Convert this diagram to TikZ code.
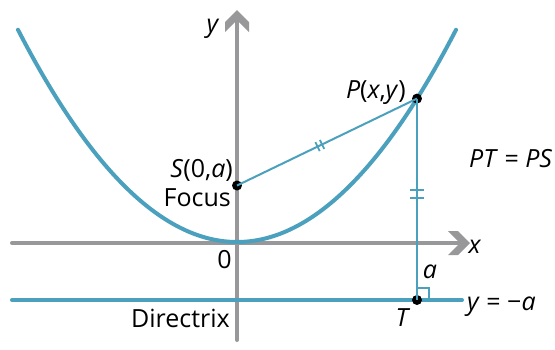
\documentclass[tikz,border=0pt]{standalone}
\usepackage{fontspec}
\setmainfont{Open Sans}
\usetikzlibrary{calc}
\definecolor{teal1}{HTML}{4BA0BE}
\definecolor{axgray}{HTML}{98989A}
\tikzset{
  axis/.style={draw=axgray,line width=4pt,line cap=round},
  curve/.style={draw=teal1,line width=4pt,line cap=round},
  seg/.style={draw=teal1,line width=2pt},
  lbl/.style={font=\fontsize{25}{28}\selectfont,inner sep=0pt},
  dot/.style={circle,fill=black,inner sep=0pt,minimum size=10pt},
  tickm/.style={draw=teal1,line width=1.8pt}
}
\begin{document}
\begin{tikzpicture}[x=1pt,y=-1pt]
\useasboundingbox (0,0) rectangle (555,349);
% axes
\draw[axis] (12,243) -- (460,243);
\fill[axgray] (470,243) -- (458,231) -- (448,231) -- (460,243) -- (448,255) -- (458,255) -- cycle;
\draw[axis] (237,340) -- (237,20);
\fill[axgray] (237,10) -- (225,22) -- (225,32) -- (237,20) -- (249,32) -- (249,22) -- cycle;
% directrix
\draw[curve] (12,300) -- (462,300);
% parabola
\draw[curve] plot[domain=-219:219,samples=120,smooth] ({237+\x},{242-\x*(\x/226)});
% points
\node[dot] (S) at (237,185.5) {};
\node[dot] (P) at (417,98.6) {};
\node[dot] (T) at (417,300) {};
\draw[seg] (S.center) -- (P.center);
\draw[seg] (P.center) -- (T.center);
% right angle
\draw[draw=teal1,line width=1.8pt] (417,288) -- (429,288) -- (429,300);
% ticks on PS
\coordinate (m1) at ($(S)!0.46!(P)$);
\coordinate (m1a) at ($(m1)!2.5pt!(P)$);
\coordinate (m1b) at ($(m1)!-2.5pt!(P)$);
\draw[tickm] ($(m1a)!5pt!90:(P)$) -- ($(m1a)!5pt!-90:(P)$);
\draw[tickm] ($(m1b)!5pt!90:(P)$) -- ($(m1b)!5pt!-90:(P)$);
% ticks on PT
\coordinate (m2) at (417,194);
\draw[tickm] ($(m2)+(-7,-4)$) -- ($(m2)+(7,-4)$);
\draw[tickm] ($(m2)+(-7,4)$) -- ($(m2)+(7,4)$);
% labels
\node[lbl,anchor=base] (ylab) at (213,32) {\textit{y}};
\node[lbl,anchor=base] (xlab) at (475,253) {\textit{x}};
\node[lbl,anchor=base east] (Slab) at (233,177) {\textit{S}(0,\textit{a})};
\node[lbl,anchor=base east] (foc) at (231,206) {Focus};
\node[lbl,anchor=base] (zero) at (224.5,268) {0};
\node[lbl,anchor=base east] (Plab) at (406,98) {\textit{P}(\textit{x},\textit{y})};
\node[lbl,anchor=base west] (eq) at (469,167) {\textit{PT} = \textit{PS}};
\node[lbl,anchor=base] (alab) at (430,278) {\textit{a}};
\node[lbl,anchor=base west] (dlab) at (467,310) {\textit{y} = −\textit{a}};
\node[lbl,anchor=base] (Tlab) at (403,326) {\textit{T}};
\node[lbl,anchor=base east] (dir) at (230,327) {Directrix};
\end{tikzpicture}
\end{document}
